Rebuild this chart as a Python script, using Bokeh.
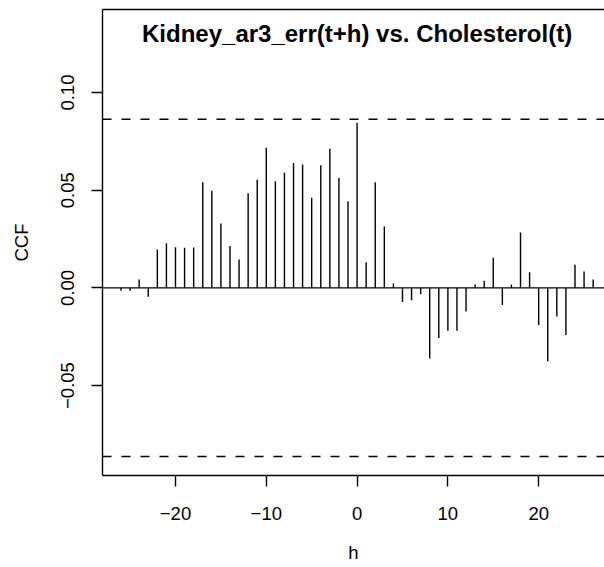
from bokeh.plotting import figure
from bokeh.models import Range1d, Span, LinearAxis, FixedTicker, Label
from bokeh.embed import file_html
from bokeh.resources import INLINE

# Cross-correlation of Kidney_ar3_err(t+h) with Cholesterol(t), lags -26..26
lags = list(range(-26, 27))
ccf = [
    -0.0015, -0.0015, 0.0043, -0.0046, 0.0196, 0.0229, 0.0208, 0.0205, 0.0207,
    0.0541, 0.0497, 0.0329, 0.0215, 0.0145, 0.0485, 0.0553, 0.0717,
    0.0546, 0.0589, 0.0639, 0.0632, 0.0461, 0.0628, 0.0712, 0.0562, 0.0444,
    0.0845,
    0.0131, 0.0541, 0.0314, 0.0022, -0.0072, -0.0063, -0.0032, -0.0362,
    -0.0256, -0.0219, -0.0220, -0.0121, 0.0017, 0.0036, 0.0154, -0.0087,
    0.0017, 0.0283, 0.0080, -0.0190, -0.0376, -0.0147, -0.0241, 0.0118,
    0.0084, 0.0043,
]
ci = 0.0863  # approximate 95% bound

x_ticks = [-20, -10, 0, 10, 20]
x_tick_labels = ["\u221220", "\u221210", "0", "10", "20"]
y_ticks = [-0.05, 0.0, 0.05, 0.10]
y_tick_labels = ["\u22120.05", "0.00", "0.05", "0.10"]

title_text = "Kidney_ar3_err(t+h) vs. Cholesterol(t)"
FONT = "Liberation Sans"

X_START, X_END = -28.04, 27.25
Y_START, Y_END = -0.09605, 0.14252
TOP, BOTTOM = 9, 92
H = 567
px_per_unit = (H - TOP - BOTTOM) / (Y_END - Y_START)

p = figure(
    width=604, height=H,
    x_range=Range1d(X_START, X_END), y_range=Range1d(Y_START, Y_END),
    output_backend="svg", toolbar_location=None,
    min_border_left=102, min_border_right=0,
    min_border_top=TOP, min_border_bottom=BOTTOM,
    background_fill_color="white", border_fill_color="white",
)
p.outline_line_color = None
p.grid.visible = False

LW = 1.4
for ax in (p.xaxis[0], p.yaxis[0]):
    ax.axis_line_width = LW
    ax.axis_line_color = "black"
    ax.major_tick_line_width = LW
    ax.major_tick_line_color = "black"
    ax.major_tick_out = 11
    ax.major_tick_in = 0
    ax.minor_tick_line_color = None
    ax.major_label_text_font = FONT
    ax.major_label_text_font_size = "18.5px"
    ax.major_label_text_color = "black"
    ax.axis_label_text_font = FONT
    ax.axis_label_text_font_size = "18.5px"
    ax.axis_label_text_font_style = "normal"
    ax.axis_label_text_color = "black"

p.xaxis.ticker = FixedTicker(ticks=x_ticks)
p.xaxis.major_label_overrides = dict(zip(x_ticks, x_tick_labels))
p.xaxis.axis_label = "h"
p.xaxis.major_label_standoff = 20
p.xaxis.axis_label_standoff = 19

p.yaxis.ticker = FixedTicker(ticks=y_ticks)
p.yaxis.major_label_overrides = dict(zip(y_ticks, y_tick_labels))
p.yaxis.major_label_orientation = "vertical"
p.yaxis.axis_label = "CCF"
p.yaxis.major_label_standoff = 17
p.yaxis.axis_label_standoff = 27

# top edge of the box
top_axis = LinearAxis(ticker=FixedTicker(ticks=[]), axis_line_width=LW,
                      major_label_text_font_size="0px",
                      major_tick_line_color=None, minor_tick_line_color=None)
p.add_layout(top_axis, "above")

# zero line and confidence bounds
p.add_layout(Span(location=0, dimension="width", line_color="black", line_width=LW))
for c in (ci, -ci):
    p.add_layout(Span(location=c, dimension="width", line_color="black",
                      line_width=LW, line_dash="9 10"))

# correlation spikes
p.segment(x0=lags, y0=[0] * len(lags), x1=lags, y1=ccf,
          line_color="black", line_width=LW)

# title inside the box
p.add_layout(Label(x=0, y=Y_END - 24.2 / px_per_unit, text=title_text,
                   text_font=FONT, text_font_size="24px", text_font_style="bold",
                   text_align="center", text_baseline="alphabetic",
                   text_color="black"))

open("out.html", "w").write(file_html(p, INLINE))
